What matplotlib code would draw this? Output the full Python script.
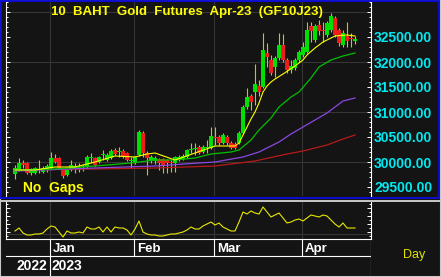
import numpy as np
import matplotlib
matplotlib.use("Agg")
import matplotlib.pyplot as plt
from matplotlib.patches import Rectangle
from matplotlib.lines import Line2D
from matplotlib.ticker import MultipleLocator, FuncFormatter

plt.rcParams['font.family'] = ['Liberation Sans', 'DejaVu Sans']

# daily OHLC, 86 bars (late Dec 2022 .. mid Apr 2023)
opens = [29760, 29840, 29980, 29980, 29780, 29780, 29840, 29800, 29840, 29880,
         30080, 30080, 29840, 29740, 29840, 29900, 29880, 29900, 29900, 30080,
         30080, 30000, 30140, 30040, 30080, 30240, 30200, 30220, 30180, 30020,
         29980, 30140, 30580, 30180, 30020, 30020, 30060, 30060, 30040, 30000,
         29980, 30040, 30060, 30100, 30240, 30260, 30300, 30200, 30280, 30280,
         30500, 30500, 30380, 30500, 30380, 30360, 30380, 30580, 31100, 31320,
         31400, 31520, 31500, 32180, 32040, 31900, 32080, 32340, 32040, 31840,
         31880, 32040, 32140, 32200, 32720, 32440, 32740, 32640, 32540, 32640,
         32880, 32640, 32340, 32520, 32480, 32420]
closes = [29880, 29980, 29940, 29780, 29840, 29880, 29860, 29880, 29920, 30080,
          30000, 29880, 29720, 29840, 29940, 29920, 29900, 29920, 30100, 30100,
          29940, 30100, 30160, 30140, 30220, 30160, 30220, 30100, 30040, 30040,
          30100, 30600, 30180, 30080, 30100, 30080, 29980, 29940, 29980, 29980,
          30100, 30100, 30120, 30240, 30260, 30280, 30180, 30300, 30300, 30520,
          30480, 30380, 30540, 30380, 30280, 30280, 30580, 31100, 31300, 31200,
          31560, 31400, 32240, 32100, 31780, 32080, 32340, 32040, 31840, 31920,
          32040, 32200, 32300, 32640, 32620, 32720, 32620, 32620, 32780, 32920,
          32540, 32380, 32580, 32420, 32460, 32460]
highs = [29940, 30080, 30040, 30000, 29880, 29900, 30040, 29920, 29960, 30200,
         30160, 30100, 29880, 29880, 30040, 29980, 29980, 29960, 30140, 30180,
         30100, 30120, 30240, 30180, 30260, 30280, 30300, 30260, 30200, 30100,
         30120, 30640, 30620, 30220, 30140, 30120, 30080, 30080, 30060, 30040,
         30120, 30140, 30160, 30260, 30380, 30380, 30340, 30340, 30440, 30700,
         30700, 30540, 30580, 30540, 30420, 30400, 30620, 31140, 31480, 31360,
         31960, 31640, 32580, 32380, 32140, 32120, 32580, 32560, 32080, 32040,
         32080, 32240, 32400, 32800, 32800, 32760, 32840, 32800, 32820, 32980,
         32920, 32680, 32640, 32800, 32580, 32520]
lows = [29660, 29820, 29880, 29760, 29740, 29760, 29780, 29780, 29800, 29860,
        29980, 29860, 29680, 29720, 29820, 29780, 29800, 29820, 29880, 29980,
        29920, 29980, 30040, 30020, 30060, 30140, 30100, 30080, 30020, 29880,
        29960, 30120, 30100, 29740, 29980, 29960, 29840, 29780, 29780, 29800,
        29800, 30020, 30040, 30080, 30180, 30140, 30160, 30180, 30180, 30260,
        30340, 30340, 30360, 30340, 30260, 30260, 30360, 30560, 31060, 31040,
        31140, 31320, 31480, 31900, 31740, 31700, 32040, 32000, 31780, 31780,
        31840, 32000, 32100, 32180, 32400, 32400, 32540, 32400, 32500, 32600,
        32500, 32320, 32300, 32300, 32300, 32360]

# moving averages (bar index, price)
ma_fast_bars = [0, 5, 10, 15, 20, 25, 30, 33, 35, 40, 45, 50, 53, 55, 56, 57, 58, 59,
                60, 61, 62, 63, 64, 65, 67, 70, 72, 73, 75, 77, 80, 83, 85]
ma_fast = [29840, 29840, 29900, 29900, 30000, 30120, 30100, 30160, 30180, 30040, 30180,
           30320, 30320, 30320, 30380, 30540, 30700, 30860, 31000, 31180, 31400, 31520,
           31600, 31660, 31760, 31920, 32040, 32140, 32280, 32400, 32520, 32540, 32520]
ma_mid_bars = [0, 10, 20, 29, 35, 40, 45, 49, 54, 56, 59, 61, 64, 66, 69, 71, 74, 76, 79, 82, 85]
ma_mid = [29840, 29860, 29920, 29980, 30040, 30040, 30080, 30160, 30200, 30240, 30440,
          30640, 30880, 31100, 31300, 31400, 31680, 31900, 32040, 32120, 32180]
ma_slow_bars = [0, 20, 35, 46, 50, 57, 61, 66, 69, 72, 78, 82, 85]
ma_slow = [29820, 29880, 29920, 29980, 30000, 30100, 30200, 30400, 30560, 30700, 30980,
           31220, 31280]
ma_long_bars = [0, 20, 35, 50, 60, 68, 72, 78, 82, 85]
ma_long = [29840, 29860, 29880, 29920, 30020, 30160, 30220, 30340, 30460, 30540]

# lower study
study = [9, 12, 7, 5, 5, 6, 6, 7, 11, 14, 13, 8, 3, 9, 7, 7, 8, 7, 13, 11,
         11, 13, 8, 13, 8, 13, 12, 12, 10, 5, 11, 19, 8, 6, 5, 5, 4, 4, 5, 6,
         6, 7, 8, 10, 13, 11, 11, 14, 16, 18, 15, 17, 13, 11, 9, 9, 18, 28, 26, 29,
         27, 26, 33, 28, 23, 25, 27, 22, 17, 18, 20, 21, 19, 22, 25, 24, 23, 25, 24, 20,
         16, 13, 17, 12, 12, 12]

month_labels = ['Jan', 'Feb', 'Mar', 'Apr']
month_starts = [9, 30, 50, 72]
year_labels = ['2022', '2023']

W, H = 441, 277
BG = '#141414'
GRID = '#363636'

def box(x0, y0, x1, y1):
    return [x0 / W, 1 - y1 / H, (x1 - x0) / W, (y1 - y0) / H]

fig = plt.figure(figsize=(W / 100, H / 100), dpi=100, facecolor=BG)

x = np.arange(len(opens))
o = np.array(opens); c = np.array(closes)
xlim = (-2.25, 89)

# ---- price panel
ax = fig.add_axes(box(6, 2, 371, 196), facecolor=BG)
ax.set_xlim(*xlim)
ax.set_ylim(29320, 33200)
for p in [30000, 31000, 32000, 33000]:
    ax.axhline(p, color=GRID, lw=0.8, zorder=0)
for m in month_starts:
    ax.axvline(m - 0.2, color=GRID, lw=0.8, zorder=0)

ax.vlines(x, lows, highs, color='#d2c200', lw=0.8, zorder=2)
up = c >= o
body = np.maximum(np.abs(c - o), 12)
ax.bar(x[up], body[up], bottom=np.minimum(o, c)[up], width=0.8, color='#00e000', lw=0, zorder=3)
ax.bar(x[~up], body[~up], bottom=np.minimum(o, c)[~up], width=0.8, color='#f01c1c', lw=0, zorder=3)

ax.plot(ma_long_bars, ma_long, color='#b81a1a', lw=0.9, zorder=4)
ax.plot(ma_slow_bars, ma_slow, color='#8a48e0', lw=0.9, zorder=4)
ax.plot(ma_mid_bars, ma_mid, color='#00c000', lw=0.9, zorder=4)
ax.plot(ma_fast_bars, ma_fast, color='#ffff00', lw=0.8, zorder=5)

ax.set_xticks([])
ax.yaxis.set_major_locator(MultipleLocator(500))
ax.yaxis.set_minor_locator(MultipleLocator(100))
ax.yaxis.set_major_formatter(FuncFormatter(lambda v, pos: '' if v > 32900 else f'{v:.2f}'))
ax.tick_params(axis='y', which='both', direction='in', left=True, right=True,
               labelleft=False, labelright=True, color='white', width=0.7, pad=2.2)
ax.tick_params(axis='y', which='major', length=3)
ax.tick_params(axis='y', which='minor', length=1.5)
for lab in ax.get_yticklabels():
    lab.set_color('#00e8f0'); lab.set_fontweight('bold'); lab.set_fontsize(10)
for s in ['top', 'bottom']:
    ax.spines[s].set_visible(False)
for s in ['left', 'right']:
    ax.spines[s].set_color('white'); ax.spines[s].set_linewidth(0.8)

fig.text(51 / W, 1 - 12.5 / H, '10  BAHT  Gold  Futures  Apr-23  (GF10J23)',
         color='#ffff00', fontsize=9.5, fontweight='bold', ha='left', va='center')
fig.text(23 / W, 1 - 188 / H, 'No  Gaps', color='#ffff00', fontsize=10,
         fontweight='bold', ha='left', va='center')

# ---- study panel
ax2 = fig.add_axes(box(6, 201, 371, 239), facecolor=BG)
ax2.set_xlim(*xlim)
ax2.set_ylim(1, 39)
ax2.axhline(6, color=GRID, lw=0.8, zorder=0)
for m in month_starts:
    ax2.axvline(m - 0.2, color=GRID, lw=0.8, zorder=0)
ax2.plot(x, study, color='#e8e800', lw=0.8)
ax2.set_xticks([])
ax2.yaxis.set_major_locator(MultipleLocator(8))
ax2.yaxis.set_minor_locator(MultipleLocator(4))
ax2.tick_params(axis='y', which='both', direction='in', left=True, right=True,
                labelleft=False, labelright=False, color='white', width=0.7)
ax2.tick_params(axis='y', which='major', length=3)
ax2.tick_params(axis='y', which='minor', length=1.5)
ax2.spines['top'].set_visible(False)
for s in ['left', 'right', 'bottom']:
    ax2.spines[s].set_color('white'); ax2.spines[s].set_linewidth(0.8)

# ---- date scale
ax3 = fig.add_axes(box(6, 239, 371, 277), facecolor=BG)
ax3.set_xlim(*xlim)
ax3.set_ylim(0, 38)
ax3.axis('off')
ax3.axhline(21, color='white', lw=0.8)
ax3.plot([xlim[1], xlim[1]], [0, 38], color='white', lw=0.8)
for i, (m, lab) in enumerate(zip(month_starts, month_labels)):
    ax3.plot([m - 0.2, m - 0.2], [0 if i == 0 else 21, 38], color='white', lw=0.8)
    ax3.text(m + 0.5, 28, lab, color='white', fontsize=9.5, fontweight='bold',
             ha='left', va='center')
ax3.text(month_starts[0] - 0.9, 11, year_labels[0], color='white', fontsize=10,
         fontweight='bold', ha='right', va='center')
ax3.text(month_starts[0] + 0.1, 11, year_labels[1], color='white', fontsize=10,
         fontweight='bold', ha='left', va='center')

fig.text(414 / W, 1 - 255 / H, 'Day', color='#e0e000', fontsize=9, ha='center', va='center')

# frames
fig.add_artist(Rectangle((0, 0), 1, 1, transform=fig.transFigure, fill=False,
                         ec='#c8c8c8', lw=1.5))
fig.add_artist(Rectangle((1 / W, 1 - 197.5 / H), 437.5 / W, 196.5 / H,
                         transform=fig.transFigure, fill=False, ec='#0c0cd0', lw=1.4))
fig.add_artist(Line2D([0, 1], [1 - 200.8 / H, 1 - 200.8 / H], transform=fig.transFigure,
                      color='#c8c8c8', lw=1.4))

fig.savefig('out.png', dpi=100, facecolor=BG)
